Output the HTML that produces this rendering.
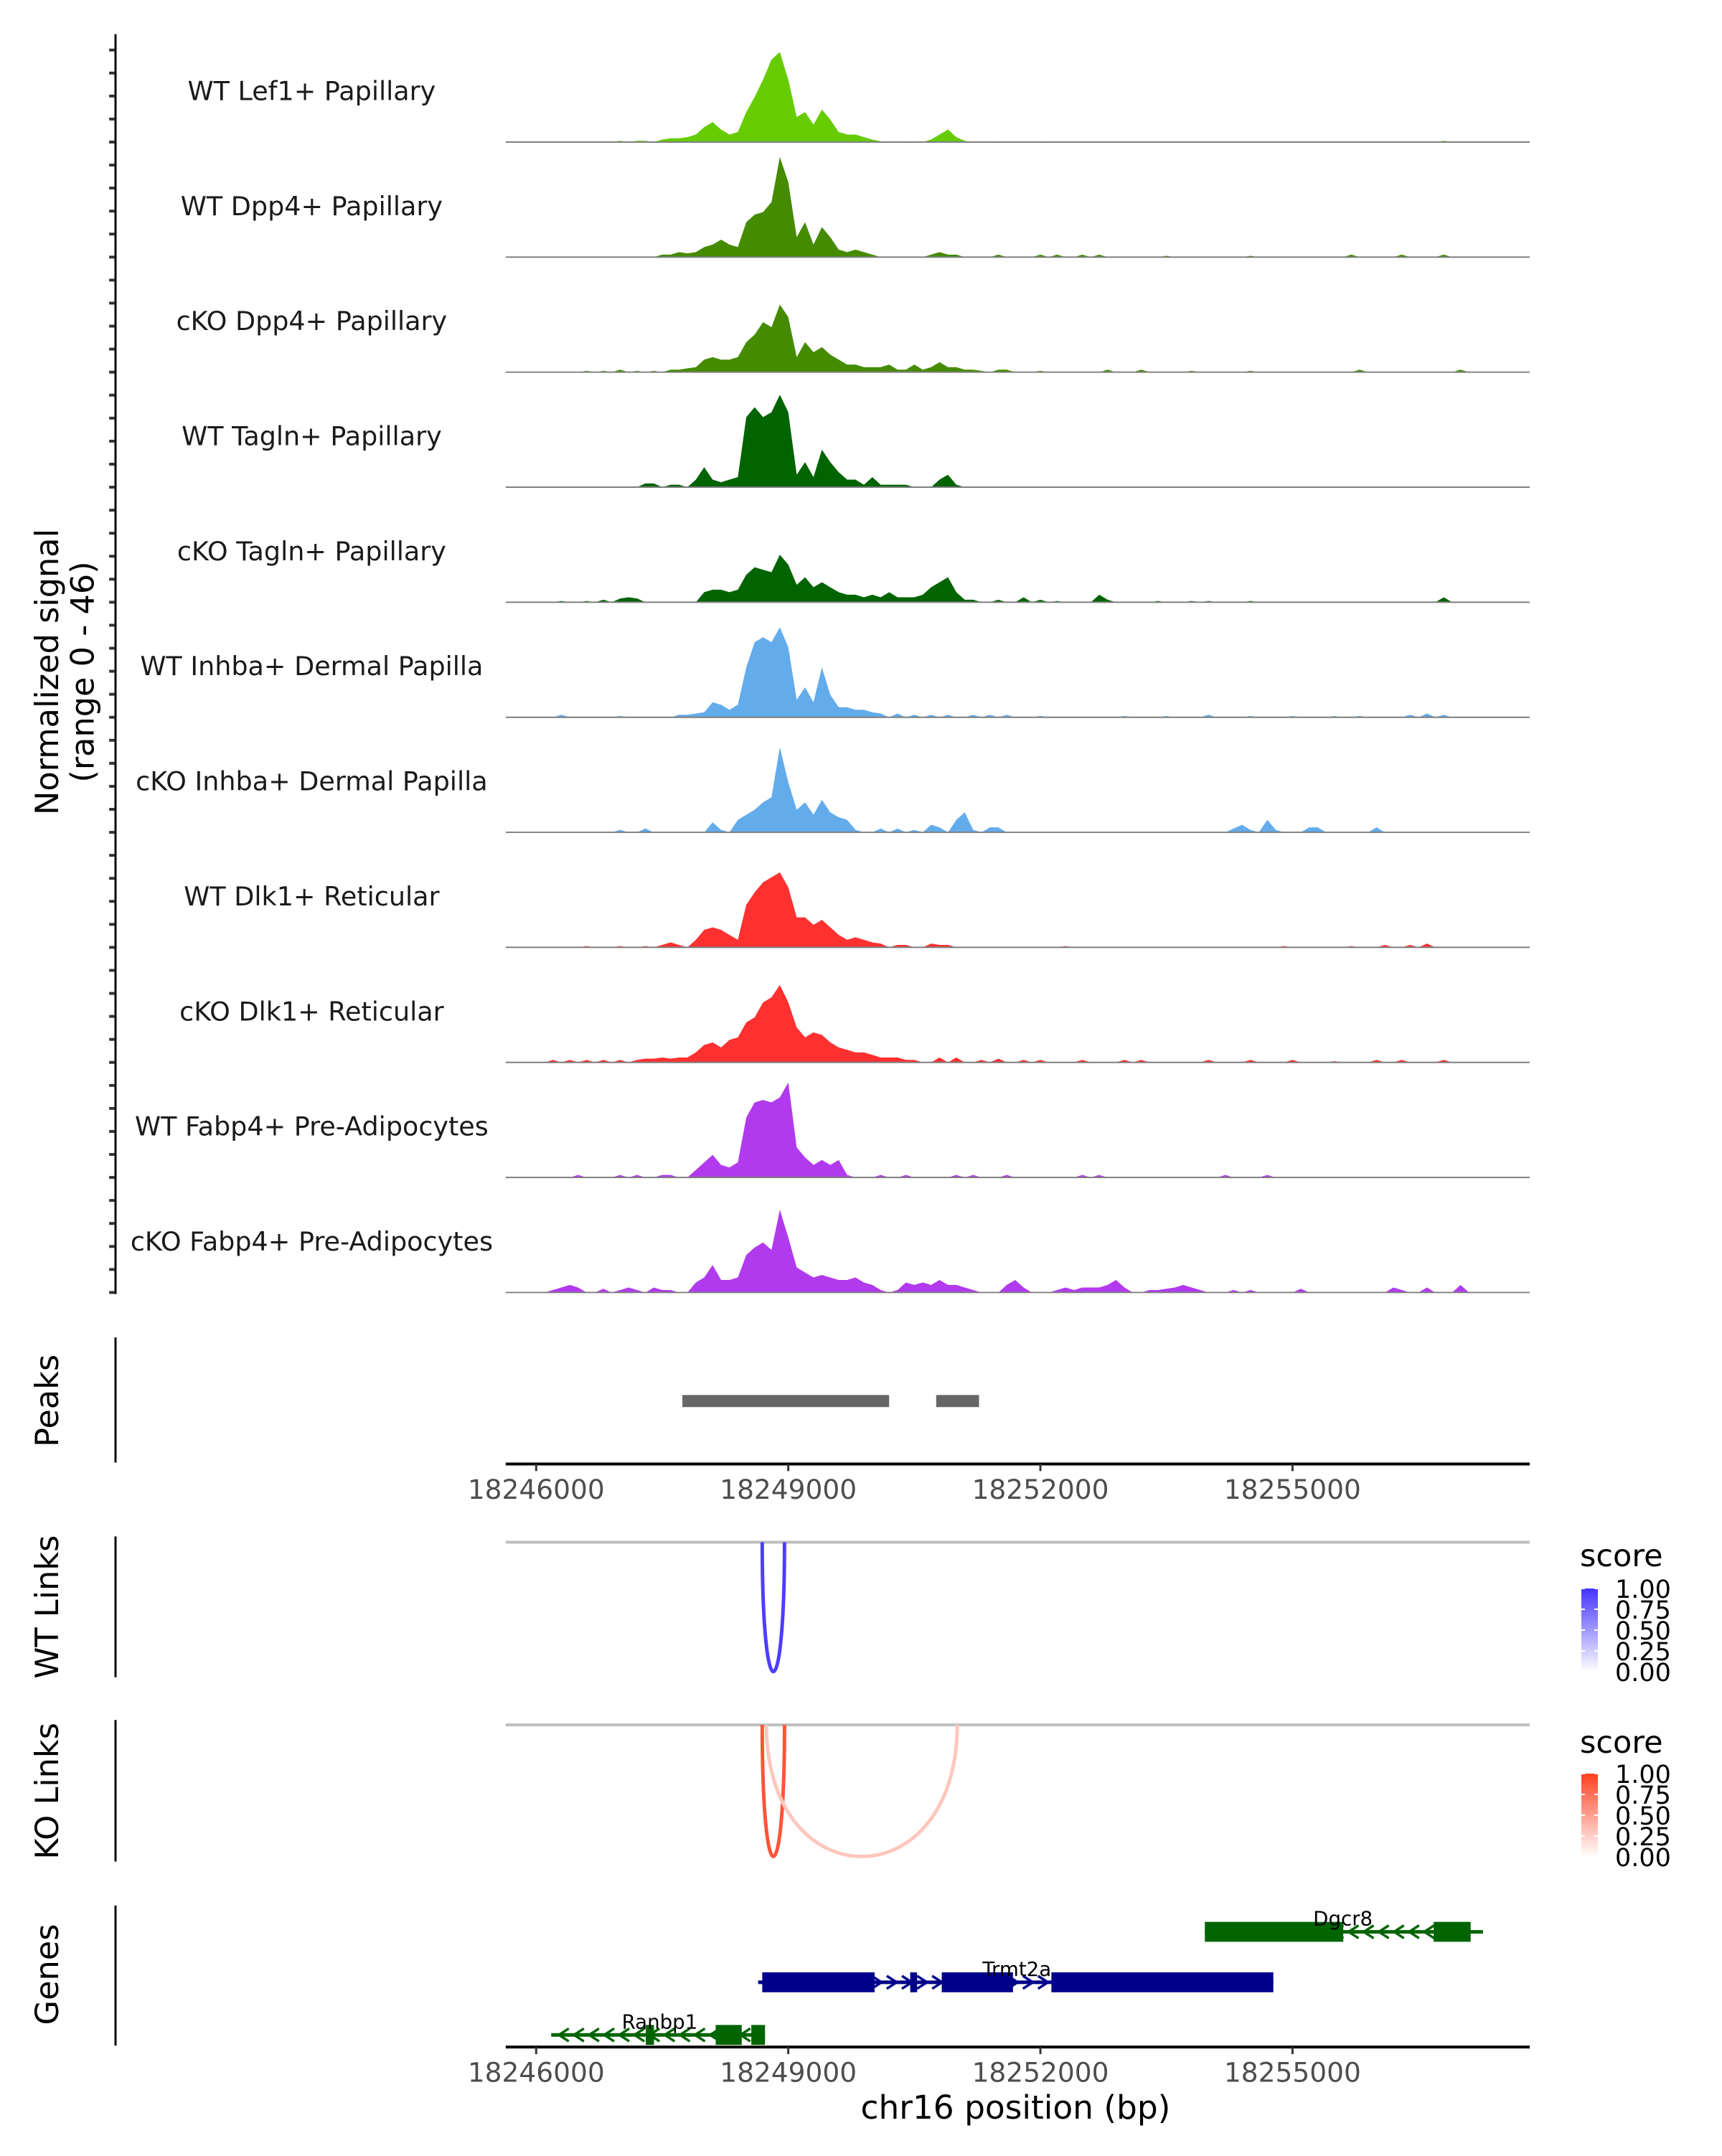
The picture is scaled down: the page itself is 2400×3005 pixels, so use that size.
<!DOCTYPE html>
<html><head><meta charset="utf-8"><style>
body{margin:0;background:#fff}
svg text{font-family:"DejaVu Sans","Liberation Sans",sans-serif}
</style></head><body>
<svg id="chart" xmlns="http://www.w3.org/2000/svg" width="2400" height="3000" viewBox="0 0 2400 3000">
<g transform="translate(161,0) scale(0.987,0.991) translate(-161,0)">
<g id="tracks"></g>
<g id="links"></g>
<g id="genes"></g>
<g id="axes"></g>
</g>
<g id="legends"></g>
</svg>
<script>
// ---- data ----
const binStart = 18246000, binSize = 100, nBins = 113;
const trackNames = ["WT Lef1+ Papillary","WT Dpp4+ Papillary","cKO Dpp4+ Papillary","WT Tagln+ Papillary","cKO Tagln+ Papillary","WT Inhba+ Dermal Papilla","cKO Inhba+ Dermal Papilla","WT Dlk1+ Reticular","cKO Dlk1+ Reticular","WT Fabp4+ Pre-Adipocytes","cKO Fabp4+ Pre-Adipocytes"];
const trackColors = ["#66cc00","#458b00","#458b00","#006400","#006400","#63acec","#63acec","#ff3030","#ff3030","#b23aee","#b23aee"];
// [bin, value] pairs (value range 0-46)
const sigLef1 = [[10,0.5],[12,0.5],[13,0.5],[15,1],[16,1.5],[17,1.5],[18,2],[19,3],[20,6],[21,8],[22,5],[23,3],[24,4],[25,12],[26,18],[27,25],[28,33],[29,36],[30,25],[31,10],[32,12],[33,7],[34,13],[35,9],[36,4],[37,3],[38,3],[39,2],[40,1],[41,0.3],[44,0.3],[47,1],[48,3],[49,5],[50,2],[51,0.5],[55,0.3],[60,0.3],[108,0.5]];
const sigWtDpp4 = [[15,1],[16,1],[17,2],[18,1.5],[19,2],[20,4],[21,5],[22,7],[23,5],[24,4],[25,14],[26,17],[27,18],[28,22],[29,40],[30,30],[31,8],[32,14],[33,5],[34,12],[35,8],[36,3],[37,2],[38,3],[39,2],[40,1],[47,1],[48,2],[49,1],[50,1],[55,1],[60,1],[62,1],[65,1],[67,1],[75,0.5],[85,0.5],[97,1],[103,1],[108,1]];
const sigKoDpp4 = [[6,0.5],[8,0.5],[10,1],[12,0.5],[14,0.5],[16,1],[17,1],[18,1.5],[19,2],[20,5],[21,6],[22,5],[23,5],[24,6],[25,12],[26,15],[27,20],[28,18],[29,27],[30,22],[31,6],[32,12],[33,8],[34,10],[35,7],[36,5],[37,3],[38,3],[39,2],[40,2],[41,2],[42,3],[43,1],[44,1],[45,3],[46,1],[47,2],[48,4],[49,2],[50,2],[51,1],[52,1],[53,0.5],[55,1],[56,1],[60,0.5],[68,1],[72,1],[78,0.5],[85,0.5],[98,1],[110,1]];
const sigWtTagln = [[13,1.5],[14,1.5],[16,1],[17,1],[19,3],[20,8],[21,3],[22,2],[23,3],[24,4],[25,28],[26,32],[27,28],[28,30],[29,37],[30,30],[31,5],[32,10],[33,4],[34,15],[35,10],[36,6],[37,3],[38,3],[39,1],[40,4],[41,1],[42,1],[43,1],[44,1],[48,3],[49,5],[50,1]];
const sigKoTagln = [[3,0.5],[6,0.5],[8,1],[10,1.5],[11,2],[12,1.5],[20,4],[21,5],[22,5],[23,4],[24,5],[25,11],[26,14],[27,13],[28,12],[29,19],[30,15],[31,7],[32,10],[33,6],[34,8],[35,6],[36,4],[37,3],[38,3],[39,2],[40,3],[41,2],[42,4],[43,2],[44,2],[45,2],[46,3],[47,6],[48,8],[49,10],[50,4],[51,1],[52,1],[55,1],[58,2],[60,1],[62,0.5],[67,3],[68,1],[74,0.5],[78,0.5],[80,0.5],[85,0.5],[108,2]];
const sigWtInhba = [[3,1],[10,0.5],[17,1],[18,1],[19,1.5],[20,2],[21,6],[22,5],[23,3],[24,5],[25,20],[26,30],[27,32],[28,30],[29,36],[30,28],[31,7],[32,12],[33,6],[34,20],[35,9],[36,4],[37,4],[38,3],[39,3],[40,2],[41,1.5],[43,1.5],[45,1],[47,1],[49,1],[52,1],[54,1],[56,1],[60,0.5],[70,0.5],[75,0.5],[80,1],[85,0.5],[90,0.5],[95,0.5],[98,0.5],[104,1],[106,1.5],[108,1]];
const sigKoInhba = [[10,1],[13,1.5],[21,4],[22,1],[24,5],[25,7],[26,9],[27,12],[28,14],[29,34],[30,20],[31,9],[32,12],[33,7],[34,13],[35,8],[36,6],[37,5],[38,1],[41,1.5],[43,1.5],[45,1],[47,3],[48,2],[50,5],[51,8],[52,1],[54,2],[55,2],[83,1.5],[84,3],[85,1],[87,5],[88,1],[92,2],[93,2],[100,2]];
const sigWtDlk1 = [[6,0.5],[10,0.5],[13,0.5],[15,1],[16,2],[17,1],[19,3],[20,7],[21,8],[22,7],[23,5],[24,3],[25,17],[26,22],[27,26],[28,28],[29,30],[30,24],[31,12],[32,12],[33,9],[34,11],[35,8],[36,5],[37,3],[38,4],[39,3],[40,2],[41,1.5],[43,1],[44,1],[47,1.5],[48,1],[49,1],[63,0.5],[89,0.5],[97,0.5],[101,1],[104,1],[106,1.5]];
const sigKoDlk1 = [[2,1],[4,1],[6,1],[8,1],[10,1],[12,1],[13,1.5],[14,1.5],[15,2],[16,1.5],[17,2],[18,2],[19,4],[20,7],[21,8],[22,6],[23,9],[24,10],[25,16],[26,18],[27,24],[28,26],[29,31],[30,24],[31,14],[32,10],[33,12],[34,11],[35,8],[36,6],[37,5],[38,4],[39,4],[40,3],[41,2],[42,2],[43,2],[44,1],[45,1],[48,2],[50,2],[53,1],[55,1.5],[58,1],[60,1],[65,1],[70,1],[72,1],[80,1],[85,1],[90,1],[95,0.5],[100,1],[103,1],[108,1]];
const sigWtFabp4 = [[5,1],[10,1],[12,1],[15,1],[16,1],[19,3],[20,6],[21,9],[22,5],[23,4],[24,6],[25,24],[26,30],[27,31],[28,30],[29,32],[30,38],[31,12],[32,8],[33,5],[34,7],[35,5],[36,7],[37,1],[41,1],[44,1],[50,1],[52,1],[56,1],[65,1],[67,1],[82,1],[87,1]];
const sigKoFabp4 = [[2,1],[3,2],[4,3],[5,2],[8,1.5],[10,1],[11,2],[12,1],[14,2],[15,1],[16,1],[19,4],[20,6],[21,11],[22,5],[23,5],[24,6],[25,15],[26,18],[27,20],[28,17],[29,33],[30,22],[31,10],[32,8],[33,6],[34,7],[35,6],[36,5],[37,5],[38,6],[39,4],[40,3],[41,1],[43,1],[44,4],[45,3],[46,4],[47,3],[48,5],[49,3],[50,3],[51,2],[52,1],[56,3],[57,5],[58,2],[62,1],[63,2],[64,1],[65,2],[66,2],[67,2],[68,3],[69,5],[70,2],[73,1],[74,1],[75,1.5],[76,2],[77,3],[78,2],[79,1],[83,1],[85,1],[91,1.5],[102,2],[103,1],[106,2],[110,3]];
const signals = [sigLef1,sigWtDpp4,sigKoDpp4,sigWtTagln,sigKoTagln,sigWtInhba,sigKoInhba,sigWtDlk1,sigKoDlk1,sigWtFabp4,sigKoFabp4];
const peakStarts = [18247740, 18250760];
const peakEnds = [18250200, 18251270];
const xTicks = [18246000, 18249000, 18252000, 18255000];
const wtLinkStart = [18248690], wtLinkEnd = [18248955], wtLinkScore = [0.95];
const koLinkStart = [18248690, 18248740], koLinkEnd = [18248955, 18251010], koLinkScore = [0.9, 0.3];
const legendTicks = ["1.00","0.75","0.50","0.25","0.00"];

// ---- scales ----
const NS="http://www.w3.org/2000/svg";
const X0=712, X1=2158;
function xs(bp){ return 755 + (bp-18246000)*(356/3000); }
const trackTop=38, trackH=161.8, yMax=46;
function mk(tag, attrs, parent, text){
  const e=document.createElementNS(NS,tag);
  for(const k in attrs) e.setAttribute(k, attrs[k]);
  if(text!==undefined) e.textContent=text;
  parent.appendChild(e); return e;
}
const gT=document.getElementById('tracks');
signals.forEach((pairs,t)=>{
  const base = trackTop + trackH*(t+1);
  const dense = new Array(nBins).fill(0);
  pairs.forEach(p=>{ dense[p[0]] = p[1]; });
  let d = `M${xs(binStart)},${base}`;
  dense.forEach((v,i)=>{ d += ` L${xs(binStart+i*binSize).toFixed(1)},${(base - v/yMax*trackH).toFixed(1)}`; });
  d += ` L${xs(binStart+(nBins-1)*binSize)},${base} Z`;
  const g = mk('g',{},gT);
  
  
  const a = mk('path',{d:d,fill:trackColors[t]},g);
  
  
  const bl = mk('line',{x1:X0,x2:X1,y1:base,y2:base,stroke:'#7f7f7f','stroke-width':2},g);
  
  
  const lb = mk('text',{x:438,y:base-59,'font-size':37,'text-anchor':'middle',fill:'#1a1a1a'},g,trackNames[t]);
  
  
});
const gA=document.getElementById('axes');
let ax = mk('line',{x1:161,x2:161,y1:48,y2:1820,stroke:'#000','stroke-width':3},gA);
 
for(let y=trackTop+trackH*11; y>=60; y-=trackH/5){
  const tk = mk('line',{x1:152,x2:160,y1:y,y2:y,stroke:'#333','stroke-width':4},gA);
   
}
let yt = mk('text',{transform:'translate(80,945) rotate(-90)','font-size':45,'text-anchor':'middle',fill:'#000'},gA,'Normalized signal');
 
yt = mk('text',{transform:'translate(130,945) rotate(-90)','font-size':45,'text-anchor':'middle',fill:'#000'},gA,'(range 0 - 46)');
 
[[1881,2057,'Peaks',1970],[2161,2359,'WT Links',2260],[2419,2618,'KO Links',2519],[2680,2877,'Genes',2777]].forEach(s=>{
  const l = mk('line',{x1:161,x2:161,y1:s[0],y2:s[1],stroke:'#000','stroke-width':3},gA);
   
  const t = mk('text',{transform:`translate(80,${s[3]}) rotate(-90)`,'font-size':45,'text-anchor':'middle',fill:'#000'},gA,s[2]);
   
});
peakStarts.forEach((s,i)=>{
  const r = mk('rect',{x:xs(s),y:1962,width:xs(peakEnds[i])-xs(s),height:17,fill:'#666'},gA);
   
});
[[2059,2096],[2879,2916]].forEach((a,j)=>{
  const l = mk('line',{x1:X0,x2:X1,y1:a[0],y2:a[0],stroke:'#000','stroke-width':4},gA);
   
  xTicks.forEach(v=>{
    const tk = mk('line',{x1:xs(v),x2:xs(v),y1:a[0],y2:a[0]+10,stroke:'#333','stroke-width':3},gA);
     
    const tl = mk('text',{x:xs(v),y:a[1]+12,'font-size':38,'text-anchor':'middle',fill:'#4d4d4d'},gA,String(v));
     
  });
});
let xt = mk('text',{x:1432,y:2980,'font-size':46,'text-anchor':'middle',fill:'#000'},gA,'chr16 position (bp)');
 
// links
const gL=document.getElementById('links');
function linkColor(s, hue){
  const lo=[255,255,255], hi = hue==='blue'?[68,51,255]:[255,64,32];
  const c=lo.map((v,i)=>Math.round(v+(hi[i]-v)*s)); return `rgb(${c.join(',')})`;
}
function drawLinks(starts,ends,scores,top,bottom,hue,name){
  const gl=mk('line',{x1:X0,x2:X1,y1:top,y2:top,stroke:'#bebebe','stroke-width':4},gL);
   
  starts.forEach((s,i)=>{
    const a=xs(s), b=xs(ends[i]), cy = top + (bottom-top)/0.75;
    const p = mk('path',{d:`M${a},${top} C${a},${cy} ${b},${cy} ${b},${top}`,fill:'none',stroke:linkColor(scores[i],hue),'stroke-width':5},gL);
     
  });
}
drawLinks(wtLinkStart,wtLinkEnd,wtLinkScore,2169,2351,'blue','wt-link');
drawLinks(koLinkStart,koLinkEnd,koLinkScore,2426,2611,'red','ko-link');
// legends (absolute coordinates)
const gLeg=document.getElementById('legends');
[[2183,2214,'blue'],[2443,2472,'red']].forEach((L,j)=>{
  const g = mk('g',{},gLeg);
   
  mk('text',{x:2202,y:L[0],'font-size':43,fill:'#000'},g,'score');
  const id='grad'+j;
  const defs=mk('defs',{},g); const lg=mk('linearGradient',{id:id,x1:0,y1:1,x2:0,y2:0},defs);
  mk('stop',{offset:0,'stop-color':linkColor(0,L[2])},lg); mk('stop',{offset:1,'stop-color':linkColor(1,L[2])},lg);
  mk('rect',{x:2204,y:L[1],width:23,height:116,fill:`url(#${id})`},g);
  legendTicks.forEach((t,i)=>{
    const y=L[1]+i*29;
    mk('line',{x1:2204,x2:2209,y1:y,y2:y,stroke:'#fff','stroke-width':2},g);
    mk('line',{x1:2222,x2:2227,y1:y,y2:y,stroke:'#fff','stroke-width':2},g);
    mk('text',{x:2251,y:y+13,'font-size':35,fill:'#000'},g,t);
  });
});
// genes
const gG=document.getElementById('genes');
const geneNames=["Dgcr8","Trmt2a","Ranbp1"];
const geneStart=[18253957,18248641,18246179], geneEnd=[18257267,18254772,18248723];
const geneY=[2717,2788,2862], geneColor=["#006400","#00008b","#006400"], geneStrand=[-1,1,-1];
const exonStarts=[[18253957,18256680],[18248690,18250451,18250826,18252131],[18247304,18248136,18248560]];
const exonEnds=[[18255604,18257120],[18250027,18250533,18251674,18254772],[18247402,18248446,18248723]];
const labelBp=[18255600,18251720,18247470];
geneNames.forEach((n,i)=>{
  const g=mk('g',{},gG);
   
  const y=geneY[i], c=geneColor[i];
  mk('line',{x1:xs(geneStart[i]),x2:xs(geneEnd[i]),y1:y,y2:y,stroke:c,'stroke-width':5},g);
  for(let bp=geneStart[i]+150; bp<geneEnd[i]-100; bp+=180){
    const x=xs(bp), d=geneStrand[i]*7;
    mk('path',{d:`M${x-d},${y-9} L${x+d},${y} L${x-d},${y+9}`,fill:'none',stroke:c,'stroke-width':3.5},g);
  }
  exonStarts[i].forEach((s,k)=>{
    mk('rect',{x:xs(s),y:y-14,width:Math.max(4,xs(exonEnds[i][k])-xs(s)),height:28,fill:c},g);
  });
  mk('text',{x:xs(labelBp[i]),y:y-9,'font-size':28,'text-anchor':'middle',fill:'#000'},g,n);
});
</script>
</body></html>
